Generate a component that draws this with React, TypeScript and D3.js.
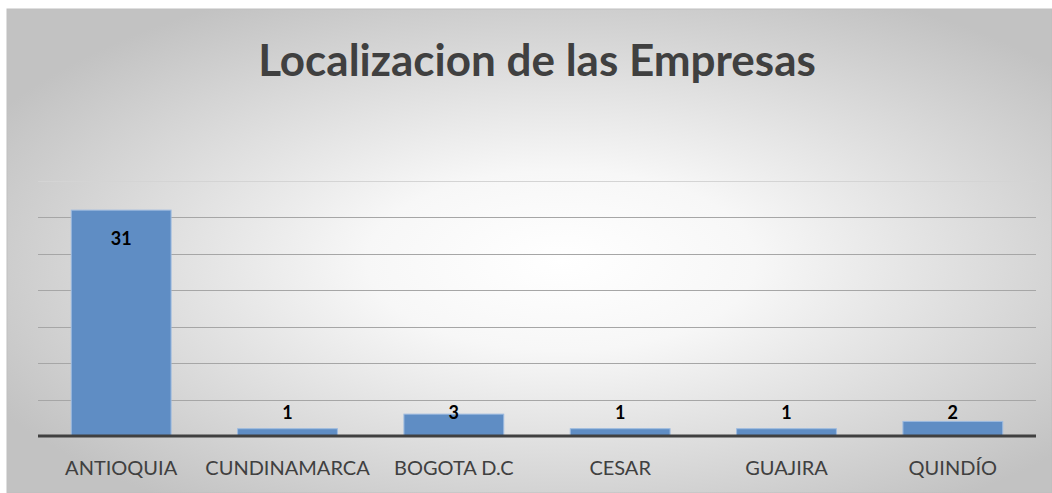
import React from "react";
import * as d3 from "d3";

const categories = ["ANTIOQUIA", "CUNDINAMARCA", "BOGOTA D.C", "CESAR", "GUAJIRA", "QUINDÍO"];
const values = [31, 1, 3, 1, 1, 2];
const gridTicks = [5, 10, 15, 20, 25, 30, 35];
const title = "Localizacion de las Empresas";

const W = 1052;
const H = 493;
const plot = { left: 38, right: 1036, top: 181, bottom: 436 };

export default function App() {
  const x = d3.scaleBand<string>()
    .domain(categories)
    .range([plot.left, plot.right])
    .paddingInner(0.4)
    .paddingOuter(0.2);

  const y = d3.scaleLinear()
    .domain([0, 35])
    .range([plot.bottom, plot.top]);

  return (
    <svg width={W} height={H} style={{ position: "absolute", left: 0, top: 0 }}>
      <defs>
        <radialGradient id="bg" cx="0.53" cy="0.52" r="0.62" gradientUnits="objectBoundingBox">
          <stop offset="0" stopColor="#ffffff" />
          <stop offset="0.3" stopColor="#f7f7f7" />
          <stop offset="1" stopColor="#c2c2c2" />
        </radialGradient>
      </defs>
      <rect x={0} y={0} width={W} height={H} fill="#ffffff" />
      <rect x={7} y={9} width={W - 7} height={H - 9} fill="url(#bg)" stroke="#bfbfbf" strokeWidth={1} />

      <text x={537} y={76} textAnchor="middle" fontFamily="Lato, 'Noto Sans', sans-serif"
        fontWeight="bold" fontSize={44} fill="#404040">{title}</text>

      {gridTicks.map((t) => (
        <line key={t} x1={plot.left} x2={plot.right} y1={Math.round(y(t)) + 0.5} y2={Math.round(y(t)) + 0.5}
          stroke={t === 35 ? "#d4d4d4" : "#a6a6a6"} strokeWidth={1} />
      ))}

      {categories.map((c, i) => (
        <rect key={c} x={x(c)} y={y(values[i])} width={x.bandwidth()} height={plot.bottom - y(values[i])}
          fill="#5f8dc4" stroke="#9dbbe0" strokeWidth={1} />
      ))}

      <line x1={plot.left} x2={plot.right} y1={plot.bottom} y2={plot.bottom} stroke="#404040" strokeWidth={3} />

      {categories.map((c, i) => {
        const cx = (x(c) ?? 0) + x.bandwidth() / 2;
        const inside = values[i] > 10;
        return (
          <text key={c} x={cx} y={inside ? y(values[i]) + 35 : y(0) - 17} textAnchor="middle"
            fontFamily="Lato, 'Noto Sans', sans-serif" fontWeight="bold" fontSize={18} fill="#000000">
            {values[i]}
          </text>
        );
      })}

      {categories.map((c) => (
        <text key={c} x={(x(c) ?? 0) + x.bandwidth() / 2} y={475} textAnchor="middle"
          fontFamily="Lato, 'Noto Sans', sans-serif" fontSize={20} fill="#404040">
          {c}
        </text>
      ))}
    </svg>
  );
}
